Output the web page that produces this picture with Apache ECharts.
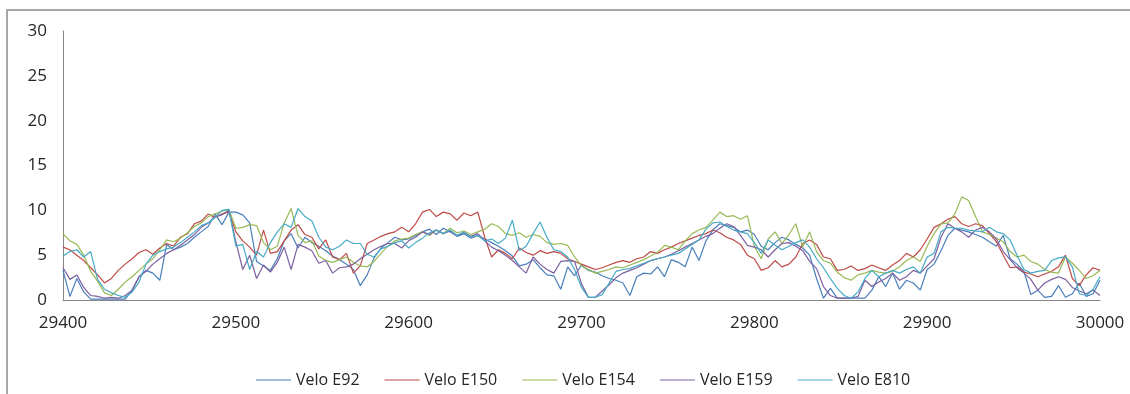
<!DOCTYPE html>
<html>
<head>
<meta charset="utf-8">
<script src="https://cdn.jsdelivr.net/npm/echarts@6/dist/echarts.min.js"></script>
<style>
  html, body { margin: 0; padding: 0; background: #fff; }
  #chart { width: 1130px; height: 394px; }
</style>
</head>
<body>
<div id="chart"></div>
<script>
// Sample positions (shared by every series)
const xs = [
  29400,29404,29408,29412,29416,29420,29424,29428,29432,29436,29440,29444,29448,29452,29456,29460,29464,29468,29472,29476,29480,29484,29488,29492,29496,
  29500,29504,29508,29512,29516,29520,29524,29528,29532,29536,29540,29544,29548,29552,29556,29560,29564,29568,29572,29576,29580,29584,29588,29592,29596,
  29600,29604,29608,29612,29616,29620,29624,29628,29632,29636,29640,29644,29648,29652,29656,29660,29664,29668,29672,29676,29680,29684,29688,29692,29696,
  29700,29704,29708,29712,29716,29720,29724,29728,29732,29736,29740,29744,29748,29752,29756,29760,29764,29768,29772,29776,29780,29784,29788,29792,29796,
  29800,29804,29808,29812,29816,29820,29824,29828,29832,29836,29840,29844,29848,29852,29856,29860,29864,29868,29872,29876,29880,29884,29888,29892,29896,
  29900,29904,29908,29912,29916,29920,29924,29928,29932,29936,29940,29944,29948,29952,29956,29960,29964,29968,29972,29976,29980,29984,29988,29992,29996,
  30000
];

const veloE92 = [
  3.3,0.4,2.4,0.9,0.1,0.1,0.1,0.1,0.1,0.1,1.1,2.6,3.3,3.0,2.2,6.2,5.6,5.9,6.3,7.0,7.6,8.2,9.6,8.4,9.8,
  9.8,9.5,8.6,4.3,3.8,3.3,4.6,6.6,7.4,5.8,7.0,6.4,6.0,5.5,4.9,4.5,4.0,3.4,1.6,2.8,4.7,5.8,6.4,7.0,6.7,
  6.8,7.2,7.6,7.9,7.3,8.0,7.6,7.1,7.4,6.9,7.2,6.8,6.4,6.0,5.5,4.9,3.8,4.0,4.5,3.6,2.8,2.7,1.2,3.7,2.7,
  3.9,3.3,3.1,2.7,2.4,2.2,1.9,0.5,2.6,3.0,2.9,3.7,2.6,4.5,4.2,3.7,5.9,4.4,6.6,7.8,8.5,8.3,8.1,7.6,7.8,
  7.3,6.0,5.6,6.4,7.0,6.7,6.2,5.8,5.0,2.4,0.2,1.3,0.2,0.2,0.2,0.2,0.2,1.1,2.6,1.5,3.0,1.2,2.2,1.9,1.1,
  3.4,4.0,5.5,7.2,8.0,7.8,7.6,7.3,7.0,6.5,6.0,7.2,4.6,4.0,3.2,0.6,1.1,0.3,0.4,1.6,0.3,0.7,1.9,0.4,0.7,
  2.2
];

const veloE150 = [
  5.9,5.6,5.0,4.4,3.6,2.8,1.9,2.4,3.3,4.0,4.6,5.3,5.6,5.1,5.8,6.3,6.0,7.0,7.4,8.5,8.8,9.6,9.2,9.6,9.8,
  7.6,6.6,5.9,5.0,7.8,5.2,5.4,6.6,7.8,8.4,7.3,7.0,5.7,6.7,4.8,4.5,5.2,3.0,3.8,6.3,6.7,7.1,7.4,7.6,8.1,
  7.6,8.5,9.8,10.1,9.3,9.8,9.6,8.9,9.7,9.4,9.8,7.0,4.8,5.6,5.2,4.6,5.8,5.3,5.0,5.5,5.2,5.4,5.2,4.6,4.3,
  4.0,3.7,3.4,3.6,3.9,4.2,4.4,4.2,4.6,4.8,5.4,5.2,5.6,5.9,6.3,6.6,6.9,7.2,7.4,7.8,7.5,7.0,6.7,6.2,5.0,
  4.6,3.3,3.6,4.4,3.7,4.0,4.8,6.3,6.7,6.2,4.8,4.6,3.3,3.4,3.8,3.3,3.5,3.9,3.6,3.3,3.9,4.4,5.2,4.8,5.6,
  6.8,8.1,8.5,9.0,9.3,8.5,8.2,8.5,8.3,7.4,6.5,5.0,3.6,3.7,3.1,2.9,2.6,2.9,3.2,3.7,5.0,2.4,1.6,2.8,3.6,
  3.3
];

const veloE154 = [
  7.4,6.6,6.2,5.0,3.2,2.1,0.8,0.5,1.2,2.0,2.6,3.3,4.0,4.6,5.6,6.7,6.5,6.9,7.5,8.2,8.6,9.3,9.6,9.9,10.1,
  8.0,8.1,8.4,8.3,6.4,5.6,6.0,8.6,10.2,7.2,6.4,6.6,4.9,4.4,4.2,4.5,4.8,4.2,3.8,3.7,4.3,5.2,6.0,6.6,6.8,
  6.9,7.3,7.6,7.2,7.8,7.4,8.0,7.5,7.7,7.3,7.6,7.9,8.5,8.2,7.4,7.2,7.5,7.0,7.3,7.1,6.4,6.2,6.3,6.1,4.8,
  3.8,3.4,3.0,3.2,3.4,3.7,3.6,3.9,4.2,4.5,4.9,5.3,6.1,5.9,5.6,6.6,7.4,7.8,8.1,8.9,9.8,9.3,9.4,9.0,9.4,
  6.0,4.6,6.8,7.6,6.3,7.3,8.5,5.9,7.6,5.4,4.4,4.1,3.1,2.5,2.2,2.8,3.0,3.3,3.1,3.0,3.2,3.7,4.4,4.8,4.3,
  6.0,7.4,8.5,8.6,9.6,11.5,11.1,9.3,7.6,7.3,6.9,6.5,5.4,4.8,5.0,4.3,4.0,3.4,3.1,3.0,4.8,4.1,3.3,2.4,2.7,
  3.3
];

const veloE159 = [
  3.6,2.3,2.8,1.4,0.5,0.4,0.2,0.3,0.2,0.5,1.1,2.6,3.2,4.0,4.6,5.2,5.6,6.1,6.7,7.3,8.1,8.6,9.3,9.5,10.0,
  6.5,3.4,5.0,2.4,3.9,3.1,4.2,5.9,3.4,6.2,5.9,5.5,4.1,4.4,3.0,3.6,3.7,4.0,4.6,5.1,5.6,6.0,6.3,6.3,5.8,
  6.6,7.0,7.6,7.3,7.8,7.4,7.7,7.2,7.5,7.1,7.4,6.6,5.9,5.5,5.0,4.4,3.7,3.0,4.8,4.0,3.4,3.0,4.3,4.4,4.3,
  1.8,0.3,0.3,1.0,1.7,2.5,3.0,3.3,3.6,4.0,4.4,4.6,4.8,5.1,5.5,5.9,6.3,6.7,7.1,7.4,8.0,8.5,8.2,7.2,6.1,
  5.9,5.6,4.8,5.6,6.3,6.4,6.0,5.5,4.3,3.5,1.5,0.5,0.2,0.2,0.2,0.4,2.2,1.5,2.0,2.4,3.0,2.2,2.6,3.3,3.0,
  3.8,4.6,7.0,8.5,8.0,7.6,7.0,7.8,8.1,7.6,6.8,5.4,4.5,3.6,3.0,2.3,1.1,1.9,2.3,2.6,2.3,1.4,1.0,0.7,1.1,
  0.5
];

const veloE810 = [
  4.9,5.4,5.6,4.8,5.4,2.3,1.2,0.8,0.5,0.3,0.9,2.0,4.0,5.0,5.4,5.7,5.9,6.4,7.0,7.6,8.3,8.6,9.2,10.0,10.1,
  6.0,6.2,3.4,5.4,4.8,6.4,7.6,8.5,8.1,10.2,9.3,8.8,7.0,5.9,5.6,6.0,6.7,6.3,6.3,5.1,4.8,5.7,6.0,6.4,6.6,
  5.8,6.4,6.9,7.5,7.8,7.4,7.8,7.2,7.6,7.0,7.2,6.6,6.8,6.3,6.9,8.9,5.5,6.0,7.4,8.7,7.0,5.6,5.4,4.8,3.4,
  1.4,0.3,0.3,0.6,1.9,3.2,3.4,3.5,3.8,4.1,4.4,4.6,4.8,5.0,5.2,5.7,6.2,6.7,7.9,8.6,8.7,8.2,7.8,7.6,7.4,
  6.4,5.2,6.7,6.1,5.6,6.0,6.4,6.7,5.9,4.6,3.6,2.4,1.3,0.5,0.2,0.9,2.4,3.3,2.6,3.0,3.3,3.0,3.4,3.7,3.0,
  4.8,5.2,7.6,8.1,8.0,8.0,7.8,7.7,7.6,8.1,7.6,7.4,6.7,5.0,3.4,3.0,3.2,3.3,4.4,4.7,4.8,3.7,0.7,0.5,1.2,
  2.6
];

const seriesNames = ['Velo E92', 'Velo E150', 'Velo E154', 'Velo E159', 'Velo E810'];
const seriesValues = [veloE92, veloE150, veloE154, veloE159, veloE810];
const seriesColors = ['#4A7EBB', '#BE4B48', '#98B954', '#7D60A0', '#46AAC5'];

const FONT = '"Open Sans", "Liberation Sans", sans-serif';

const chart = echarts.init(document.getElementById('chart'), null, { renderer: 'canvas' });

chart.setOption({
  animation: false,
  backgroundColor: '#ffffff',
  color: seriesColors,
  graphic: [{
    type: 'rect',
    silent: true,
    shape: { x: 7, y: 10, width: 1160, height: 420 },
    style: { fill: 'none', stroke: '#8c8c8c', lineWidth: 1.5 }
  }],
  grid: { left: 63, right: 30, top: 31, bottom: 94, containLabel: false },
  legend: {
    data: seriesNames,
    left: 251,
    top: 367,
    icon: 'rect',
    itemWidth: 35,
    itemHeight: 1.2,
    itemGap: 25,
    textStyle: { fontFamily: FONT, fontSize: 16, color: '#262626' }
  },
  xAxis: {
    type: 'value',
    min: 29400,
    max: 30000,
    interval: 100,
    axisLine: { show: true, onZero: true, lineStyle: { color: '#868686', width: 1 } },
    axisTick: { show: false },
    splitLine: { show: false },
    axisLabel: {
      fontFamily: FONT, fontSize: 17, color: '#262626', margin: 15,
      formatter: (v) => String(v)
    }
  },
  yAxis: {
    type: 'value',
    min: 0,
    max: 30,
    interval: 5,
    axisLine: { show: true, lineStyle: { color: '#868686', width: 1 } },
    axisTick: { show: false },
    splitLine: { show: false },
    axisLabel: { fontFamily: FONT, fontSize: 17, color: '#262626', margin: 16 }
  },
  series: seriesNames.map((name, k) => ({
    name: name,
    type: 'line',
    showSymbol: false,
    symbol: 'none',
    smooth: false,
    lineStyle: { width: 1.2, color: seriesColors[k] },
    itemStyle: { color: seriesColors[k] },
    data: xs.map((x, i) => [x, seriesValues[k][i]])
  }))
});
</script>
</body>
</html>
